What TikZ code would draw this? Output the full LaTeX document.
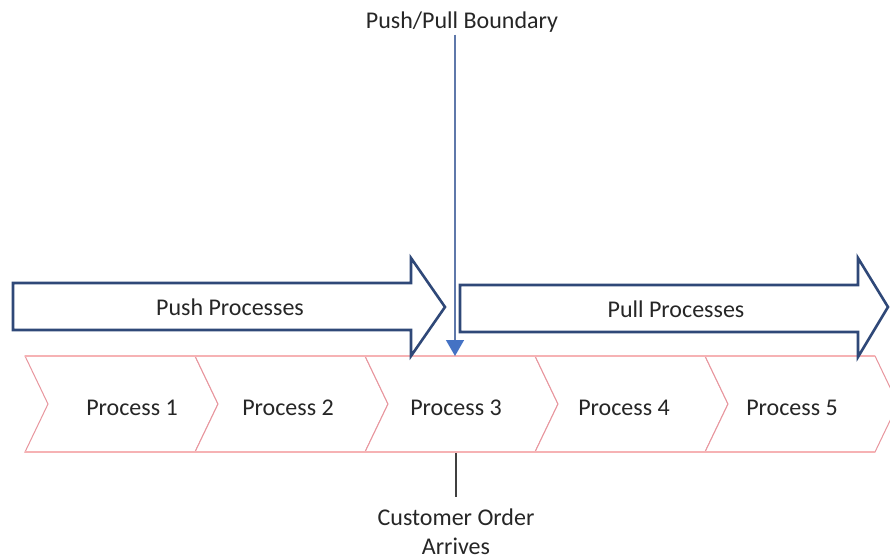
\documentclass[tikz,border=0pt]{standalone}
\usepackage{fontspec}
\setmainfont{Carlito}
\usetikzlibrary{arrows.meta}
\definecolor{arrowblue}{RGB}{47,72,120}
\definecolor{tipblue}{RGB}{68,114,196}
\definecolor{lineblue}{RGB}{95,120,170}
\definecolor{chevpink}{RGB}{232,150,158}
\definecolor{bandpink}{RGB}{246,178,180}

\begin{document}
\begin{tikzpicture}[x=0.5pt, y=-0.5pt, font=\fontsize{12}{14.5}\selectfont,
    blockarrow/.style={draw=arrowblue, line width=1.3pt, fill=white, line join=miter},
    chevron/.style={draw=chevpink, line width=0.5pt, fill=white},
    txt/.style={inner sep=1pt, text=black!85}]
    \clip (0,0) rectangle (890,558);
    \fill[white] (0,0) rectangle (890,558);

    \foreach \i in {0,...,4} {
        \draw[chevron] ({25+170*\i},356) -- ++(170,0) -- ++(23,48) -- ++(-23,48) -- ++(-170,0) -- ++(23,-48) -- cycle;
    }
    \draw[bandpink, line width=1.3pt] (25,356) -- (875,356);
    \draw[bandpink, line width=1.3pt] (25,452) -- (875,452);
    \foreach \i/\x in {1/132,2/288,3/456,4/624,5/792}
        \node[txt] (p\i) at (\x,408) {Process \i};

    \draw[blockarrow] (13,283) -- (411,283) -- (411,258) -- (445,307) -- (411,356) -- (411,330) -- (13,330) -- cycle;
    \draw[blockarrow] (460,285) -- (858,285) -- (858,258) -- (888,307) -- (858,357) -- (858,332) -- (460,332) -- cycle;
    \node[txt] (push) at (230,307) {Push Processes};
    \node[txt] (pull) at (676,309) {Pull Processes};

    \node[txt] (boundary) at (462,22) {Push/Pull Boundary};
    \coordinate (bdend) at (455,356);
    \draw[lineblue, line width=0.7pt, -{Triangle[width=9pt, length=8pt, color=tipblue]}] (boundary.south -| bdend) -- (bdend);

    \coordinate (cotop) at (456,453);
    \node[txt, align=center] (order) at (456,532) {Customer Order\\Arrives};
    \draw[black!75, line width=0.6pt, shorten >=5pt] (cotop) -- (order.north);
\end{tikzpicture}
\end{document}
